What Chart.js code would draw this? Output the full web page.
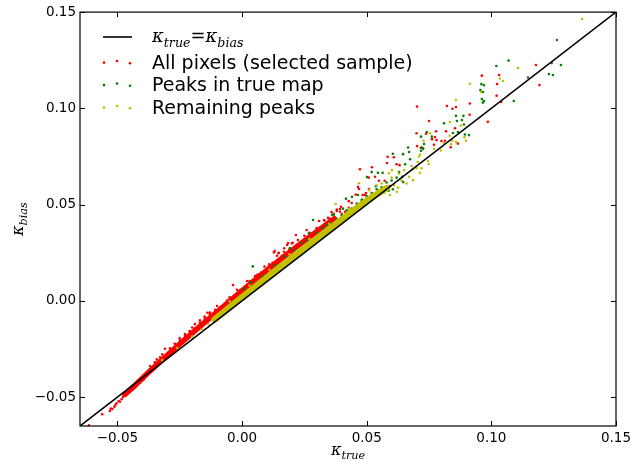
<!DOCTYPE html>
<html>
<head>
<meta charset="utf-8">
<script src="https://cdn.jsdelivr.net/npm/chart.js@4.4.1/dist/chart.umd.min.js"></script>
<style>
  html, body { margin: 0; padding: 0; background: #fff; }
  #wrap { width: 644px; height: 461px; }
</style>
</head>
<body>
<div id="wrap"><canvas id="c" width="644" height="461"></canvas></div>
<script>
// kappa_bias vs kappa_true scatter

var axisMin = -0.065, axisMax = 0.15;
var xTicks = [-0.05, 0, 0.05, 0.10, 0.15];
var yTicks = [-0.05, 0, 0.05, 0.10, 0.15];
var legendLabels = ['All pixels (selected sample)', 'Peaks in true map', 'Remaining peaks'];

var identityLine = [[-0.065, -0.065], [0.15, 0.15]];

// dense ridge of "all pixels" (drawn as a thick trace)
var allPixelsCore = [[-0.047,-0.0486],[-0.043,-0.0440],[-0.037,-0.0365],[-0.030,-0.0282],[-0.025,-0.0224],
  [-0.017,-0.0134],[-0.009,-0.0046],[-0.001,0.0042],[0.007,0.0127],[0.015,0.0212],[0.023,0.0292],
  [0.031,0.0370],[0.037,0.0427]];

var allPixels = [
  [-0.0614,-0.0646],[-0.0561,-0.0589],[-0.0530,-0.0572],[-0.0520,-0.0562],[-0.0512,-0.0550],[-0.0503,-0.0532],
  [-0.0490,-0.0524],[-0.0483,-0.0511],[-0.0472,-0.0489],[-0.0463,-0.0480],[-0.0449,-0.0463],[-0.0436,-0.0449],
  [-0.0423,-0.0437],[-0.0409,-0.0425],[-0.0396,-0.0411],[-0.0382,-0.0385],[-0.0376,-0.0376],
  [-0.0527,-0.0560],[-0.0508,-0.0541],[-0.0495,-0.0520],[-0.0478,-0.0500],[-0.0467,-0.0487],[-0.0455,-0.0470],
  [-0.0443,-0.0458],[-0.0430,-0.0440],[-0.0416,-0.0428],[-0.0402,-0.0413],[-0.0390,-0.0395],
  [-0.0369,-0.0338],[-0.0342,-0.0304],[-0.0309,-0.0249],[-0.0269,-0.0224],
  [-0.0349,-0.0339],[-0.0349,-0.0323],[-0.0329,-0.0313],[-0.0329,-0.0293],[-0.0309,-0.0288],[-0.0289,-0.0247],
  [-0.0289,-0.0273],[-0.0229,-0.0182],[-0.0229,-0.0172],[-0.0209,-0.0157],[-0.0189,-0.0121],[-0.0189,-0.0142],
  [-0.0169,-0.0112],[-0.0169,-0.0101],[-0.0149,-0.0087],[-0.0129,-0.0061],[-0.0108,-0.0046],
  [-0.0139,-0.0062],[-0.0115,-0.0068],
  [-0.0350,-0.0319],[-0.0320,-0.0278],[-0.0270,-0.0223],[-0.0250,-0.0203],[-0.0250,-0.0193],[-0.0200,-0.0138],
  [-0.0150,-0.0082],[-0.0150,-0.0098],[-0.0100,-0.0027],[-0.0060,0.0002],[-0.0020,0.0058],[0.0020,0.0103],
  [0.0060,0.0133],[0.0090,0.0178],[0.0140,0.0234],[0.0200,0.0299],[0.0250,0.0338],[0.0330,0.0418],[0.0380,0.0474],
  [-0.0036,0.0082],[0.0109,0.0190],[0.0123,0.0198],[0.0128,0.0252],[0.0147,0.0247],[0.0169,0.0273],[0.0181,0.0290],
  [0.0052,0.0129],[0.0065,0.0138],[0.0076,0.0147],[0.0085,0.0129],
  [-0.0008,0.0056],[0.0005,0.0039],[-0.0021,0.0030],[-0.0041,0.0013],[-0.0055,-0.0005],
  [-0.0210,-0.0158],[-0.0130,-0.0068],[-0.0050,0.0018],[0.0030,0.0103],[0.0110,0.0188],[0.0190,0.0268],
  [0.0270,0.0353],[0.0350,0.0428],
  [0.0309,0.0415],[0.0329,0.0420],[0.0345,0.0431],[0.0393,0.0463],[0.0400,0.0451],[0.0413,0.0463],[0.0428,0.0484],
  [0.0216,0.0342],[0.0259,0.0368],[0.0272,0.0351],[0.0286,0.0342],[0.0299,0.0378],[0.0203,0.0302],[0.0184,0.0300],
  [0.0224,0.0316],[0.0244,0.0311],[0.0131,0.0259],[0.0147,0.0250],[0.0168,0.0255],[0.0160,0.0234],[0.0179,0.0233],
  [0.0702,0.0804],[0.0717,0.0795],[0.0726,0.0793],[0.0584,0.0748],[0.0581,0.0716],[0.0609,0.0746],[0.0620,0.0710],
  [0.0632,0.0705],[0.0473,0.0684],[0.0521,0.0694],[0.0533,0.0645],[0.0508,0.0640],[0.0549,0.0624],[0.0572,0.0624],
  [0.0593,0.0596],[0.0509,0.0581],[0.0469,0.0581],[0.0497,0.0560],[0.0493,0.0550],[0.0484,0.0550],[0.0496,0.0524],
  [0.0428,0.0518],[0.0440,0.0508],[0.0397,0.0489],[0.0380,0.0467],[0.0393,0.0477],[0.0359,0.0461],[0.0368,0.0452],
  [0.0456,0.0552],[0.0465,0.0592],
  [0.1179,0.1225],[0.1193,0.1121],[0.0962,0.1170],[0.1031,0.1173],[0.1023,0.1126],[0.1021,0.1066],[0.1039,0.1033],
  [0.0914,0.1025],[0.0702,0.1009],[0.0822,0.1012],[0.0844,0.0998],[0.0858,0.1007],[0.0913,0.0967],[0.0750,0.0934],
  [0.0986,0.0930],[0.0854,0.0897],[0.0818,0.0881],[0.0700,0.0871],[0.0738,0.0868],[0.0778,0.0881],[0.0762,0.0840],
  [0.0774,0.0851],[0.0780,0.0835],[0.0770,0.0811],[0.0800,0.0830],[0.0814,0.0832],[0.0837,0.0798],[0.0866,0.0817]
];

var truePeaks = [
  [0.1020,0.1220],[0.1069,0.1248],[0.1242,0.1235],[0.1279,0.1225],[0.1247,0.1173],[0.1263,0.1355],[0.1231,0.1178],
  [0.1147,0.1160],[0.1090,0.1038],[0.0970,0.1120],[0.0966,0.1085],[0.0970,0.1038],[0.0966,0.1030],[0.0960,0.1126],
  [0.0956,0.1095],[0.0962,0.1048],[0.0858,0.0961],[0.0888,0.0961],[0.0882,0.0939],[0.0890,0.0916],[0.0810,0.0923],
  [0.0862,0.0934],[0.0866,0.0877],[0.0894,0.0864],[0.0910,0.0861],[0.0846,0.0872],[0.0718,0.0853],[0.0726,0.0790],
  [0.0718,0.0780],[0.0666,0.0797],[0.0741,0.0877],[0.0761,0.0853],[0.0730,0.0815],[0.0721,0.0796],[0.0670,0.0773],
  [0.0605,0.0764],[0.0646,0.0762],[0.0674,0.0736],[0.0654,0.0710],[0.0520,0.0669],[0.0501,0.0643],[0.0564,0.0665],
  [0.0545,0.0665],[0.0630,0.0669],[0.0642,0.0644],[0.0646,0.0617],[0.0605,0.0580],[0.0588,0.0572],[0.0465,0.0550],
  [0.0441,0.0540],[0.0481,0.0526],[0.0417,0.0531],[0.0405,0.0479],[0.0537,0.0596],[0.0285,0.0420],[0.0361,0.0447],
  [0.0368,0.0447],[0.0192,0.0274],[0.0268,0.0352],[0.0043,0.0179],[0.0035,0.0096],[0.0005,0.0063],
  [0.0080,0.0130],[0.0130,0.0185],[0.0170,0.0230],[0.0210,0.0265],[0.0240,0.0300],[0.0260,0.0315],[0.0300,0.0355],
  [0.0320,0.0380],[0.0340,0.0395],[0.0350,0.0405],[0.0380,0.0425],[0.0400,0.0445],[0.0420,0.0470],[0.0440,0.0480],
  [0.0460,0.0505],[0.0480,0.0520],[0.0500,0.0545],[0.0520,0.0560],[0.0540,0.0580],[0.0560,0.0590],[0.0580,0.0615],
  [0.0600,0.0625],[0.0620,0.0640],[0.0470,0.0500],[0.0330,0.0370],[0.0140,0.0165],[-0.0050,-0.0020]
];

// dense ridge of "remaining peaks" (drawn as a thick trace)
var remainingCore = [[-0.0110,-0.0097],[-0.0010,0.0008],[0.0072,0.0093],[0.0152,0.0175],[0.0232,0.0255],
  [0.0313,0.0336],[0.0393,0.0416],[0.0473,0.0494],[0.0530,0.0546],[0.0580,0.0585]];

var remainingPeaks = [
  [0.1364,0.1464],[0.1107,0.1209],[0.1047,0.1142],[0.1035,0.1155],[0.0914,0.1128],[0.0958,0.1085],[0.0858,0.1045],
  [0.0834,0.0929],[0.0878,0.0911],[0.0754,0.0871],[0.0833,0.0858],[0.0898,0.0832],[0.0858,0.0825],[0.0842,0.0832],
  [0.0728,0.0832],[0.0710,0.0750],[0.0714,0.0760],[0.0705,0.0721],[0.0746,0.0726],[0.0601,0.0679],[0.0589,0.0663],
  [0.0684,0.0684],[0.0720,0.0689],[0.0714,0.0665],[0.0670,0.0645],[0.0626,0.0588],[0.0469,0.0611],[0.0376,0.0503],
  [0.0892,0.0850],[0.0749,0.0711],[0.0797,0.0781],[0.0838,0.0814],[0.0660,0.0610],[0.0686,0.0627],[0.0621,0.0567],
  [0.0593,0.0550],
  [-0.0050,-0.0002],[0.0030,0.0080],[0.0110,0.0162],[0.0190,0.0242],[0.0270,0.0322],[0.0350,0.0400],[0.0430,0.0478],
  [0.0500,0.0535],[-0.0320,-0.0308],[-0.0260,-0.0245],[-0.0200,-0.0186],[-0.0160,-0.0146],[-0.0135,-0.0122],
  [0.0540,0.0600],[0.0560,0.0610],[0.0510,0.0575],[0.0600,0.0640],[0.0630,0.0660],[0.0570,0.0560],[0.0610,0.0600],
  [0.0640,0.0625],[0.0680,0.0700],[0.0700,0.0690],[0.0770,0.0790],[0.0810,0.0820],[0.0650,0.0680]
];

var C = { red: '#ff0000', green: '#008000', yellow: '#bfbf00', black: '#000000' };
var FONT = 'DejaVu Sans';
var MATH = 'DejaVu Serif';

function pts(arr) {
  return arr.map(function (p) { return { x: p[0], y: p[1] }; });
}

function scatterSet(data, color, order) {
  return {
    data: pts(data), backgroundColor: color, borderWidth: 0,
    pointRadius: 1.3, pointHoverRadius: 1.3, order: order
  };
}

function traceSet(data, color, width, order) {
  return {
    data: pts(data), showLine: true, borderColor: color, borderWidth: width,
    pointRadius: 0, borderCapStyle: 'round', borderJoinStyle: 'round', order: order
  };
}

function tickFmt(v) {
  return (v < 0 ? '\u2212' : '') + Math.abs(v).toFixed(2);
}

// draw text like "k_true = k_bias": parts are [text, kind], kind i=italic, s=subscript, r=roman
function fontFor(kind, size) {
  if (kind === 's') return 'italic ' + (size * 0.7) + 'px ' + MATH;
  if (kind === 'r') return size + 'px ' + MATH;
  return 'italic ' + size + 'px ' + MATH;
}
function mathWidth(ctx, parts, size) {
  var w = 0;
  parts.forEach(function (p) {
    ctx.font = fontFor(p[1], size);
    w += ctx.measureText(p[0]).width;
  });
  return w;
}
function drawMath(ctx, parts, x, y, size) {
  parts.forEach(function (p) {
    ctx.font = fontFor(p[1], size);
    var dy = p[1] === 's' ? size * 0.25 : 0;
    ctx.fillText(p[0], x, y + dy);
    x += ctx.measureText(p[0]).width;
  });
}

var frameTicks = {
  id: 'frameTicks',
  afterDraw: function (chart) {
    var ctx = chart.ctx, a = chart.chartArea;
    var sx = chart.scales.x, sy = chart.scales.y;
    ctx.save();
    ctx.strokeStyle = '#000';
    ctx.lineWidth = 1.2;
    ctx.strokeRect(a.left, a.top, a.right - a.left, a.bottom - a.top);
    ctx.lineWidth = 1;
    ctx.beginPath();
    xTicks.forEach(function (v) {
      var px = Math.round(sx.getPixelForValue(v)) + 0.5;
      ctx.moveTo(px, a.bottom); ctx.lineTo(px, a.bottom - 5);
      ctx.moveTo(px, a.top); ctx.lineTo(px, a.top + 5);
    });
    yTicks.forEach(function (v) {
      var py = Math.round(sy.getPixelForValue(v)) + 0.5;
      ctx.moveTo(a.left, py); ctx.lineTo(a.left + 5, py);
      ctx.moveTo(a.right, py); ctx.lineTo(a.right - 5, py);
    });
    ctx.stroke();
    ctx.restore();
  }
};

var labelsAndLegend = {
  id: 'labelsAndLegend',
  afterDraw: function (chart) {
    var ctx = chart.ctx, a = chart.chartArea;
    ctx.save();
    ctx.fillStyle = '#000';
    ctx.textBaseline = 'alphabetic';
    ctx.textAlign = 'left';

    // axis titles
    var xl = [['\u03ba', 'i'], ['true', 's']];
    var w = mathWidth(ctx, xl, 16);
    drawMath(ctx, xl, (a.left + a.right) / 2 - w / 2, 455, 16);

    var yl = [['\u03ba', 'i'], ['bias', 's']];
    ctx.save();
    ctx.translate(23, (a.top + a.bottom) / 2);
    ctx.rotate(-Math.PI / 2);
    w = mathWidth(ctx, yl, 16);
    drawMath(ctx, yl, -w / 2, 0, 16);
    ctx.restore();

    // legend (no frame, three markers per scatter entry)
    ctx.strokeStyle = C.black;
    ctx.lineWidth = 1.6;
    ctx.beginPath();
    ctx.moveTo(103, 37); ctx.lineTo(132, 37);
    ctx.stroke();
    drawMath(ctx, [['\u03ba', 'i'], ['true', 's'], ['=', 'r'], ['\u03ba', 'i'], ['bias', 's']], 152, 42, 18);

    var colors = [C.red, C.green, C.yellow];
    var rows = [62, 84.5, 107];
    var jitter = [0.6, -1, 1.2];
    var dotsX = [104, 117, 130];
    ctx.font = '19px ' + FONT;
    colors.forEach(function (col, i) {
      ctx.fillStyle = col;
      dotsX.forEach(function (dx, j) {
        ctx.beginPath();
        ctx.arc(dx, rows[i] + jitter[j], 1.3, 0, Math.PI * 2);
        ctx.fill();
      });
      ctx.fillStyle = '#000';
      ctx.fillText(legendLabels[i], 152, rows[i] + 6.5);
    });
    ctx.restore();
  }
};

function axisOpts(ticks, fitFn) {
  return {
    type: 'linear', min: axisMin, max: axisMax,
    afterBuildTicks: function (s) { s.ticks = ticks.map(function (v) { return { value: v }; }); },
    afterFit: fitFn,
    grid: { display: false, drawTicks: false },
    border: { display: false },
    ticks: {
      color: '#000', padding: 4, autoSkip: false, maxRotation: 0,
      font: { family: FONT, size: 13.5 },
      callback: tickFmt
    }
  };
}

new Chart(document.getElementById('c').getContext('2d'), {
  type: 'scatter',
  data: {
    datasets: [
      traceSet(identityLine, C.black, 1.6, 0),
      scatterSet(remainingPeaks, C.yellow, 1),
      traceSet(remainingCore, C.yellow, 6.5, 2),
      scatterSet(truePeaks, C.green, 3),
      scatterSet(allPixels, C.red, 4),
      traceSet(allPixelsCore, C.red, 5.5, 5)
    ]
  },
  options: {
    responsive: false,
    animation: false,
    events: [],
    layout: { padding: { top: 12, right: 28, left: 0, bottom: 0 } },
    plugins: { legend: { display: false }, tooltip: { enabled: false } },
    scales: {
      x: axisOpts(xTicks, function (s) { s.height = 35; }),
      y: axisOpts(yTicks, function (s) { s.width = 80; })
    }
  },
  plugins: [frameTicks, labelsAndLegend]
});
</script>
</body>
</html>
